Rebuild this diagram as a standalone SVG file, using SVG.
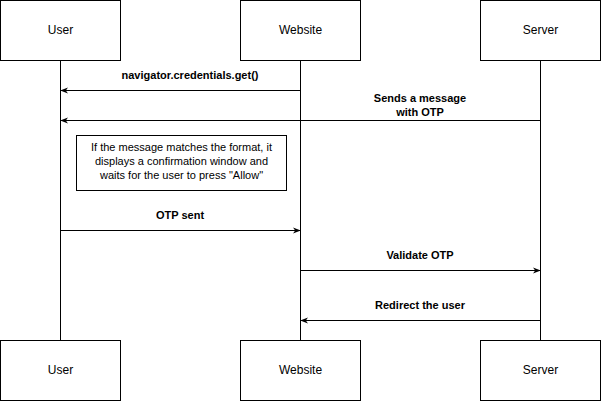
<svg xmlns="http://www.w3.org/2000/svg" width="601" height="401" viewBox="0 0 601 401">
<style>
.box{fill:#fff;stroke:#000;stroke-width:1}
.t{font-family:"Liberation Sans",Arial,sans-serif;font-size:12px;text-anchor:middle;fill:#000}
.b{font-weight:bold;font-size:11px}
.n{font-size:11px}
.l{stroke:#000;stroke-width:1;fill:none}
</style>
<defs><marker id="a" viewBox="0 0 10 10" refX="9" refY="5" markerWidth="8" markerHeight="8" orient="auto"><path d="M0,1 L10,5 L0,9 L3,5 Z" fill="#000"/></marker></defs>
<rect width="601" height="401" fill="#fff"/>
<g id="lifelines">
<line class="l" x1="60.5" y1="60" x2="60.5" y2="340"/>
<line class="l" x1="300.5" y1="60" x2="300.5" y2="340"/>
<line class="l" x1="540.5" y1="60" x2="540.5" y2="340"/>
</g>
<g id="user-top"><rect class="box" x="0.5" y="0.5" width="120" height="60"/><text class="t" x="60.5" y="34">User</text></g>
<g id="website-top"><rect class="box" x="240.5" y="0.5" width="120" height="60"/><text class="t" x="300.5" y="34">Website</text></g>
<g id="server-top"><rect class="box" x="480.5" y="0.5" width="120" height="60"/><text class="t" x="540.5" y="34">Server</text></g>
<g id="user-bottom"><rect class="box" x="0.5" y="340.5" width="120" height="60"/><text class="t" x="60.5" y="374">User</text></g>
<g id="website-bottom"><rect class="box" x="240.5" y="340.5" width="120" height="60"/><text class="t" x="300.5" y="374">Website</text></g>
<g id="server-bottom"><rect class="box" x="480.5" y="340.5" width="120" height="60"/><text class="t" x="540.5" y="374">Server</text></g>
<g id="note"><rect class="box" x="76.5" y="135.5" width="210" height="55"/>
<text class="t n" x="181.5" y="151">If the message matches the format, it</text>
<text class="t n" x="181.5" y="165">displays a confirmation window and</text>
<text class="t n" x="181.5" y="179">waits for the user to press "Allow"</text></g>
<g id="connectors">
<line class="l" x1="300" y1="90.5" x2="61" y2="90.5" marker-end="url(#a)"/>
<text class="t b" x="190" y="79">navigator.credentials.get()</text>
<line class="l" x1="540" y1="120.5" x2="61" y2="120.5" marker-end="url(#a)"/>
<text class="t b" x="420" y="102">Sends a message</text>
<text class="t b" x="420" y="116">with OTP</text>
<line class="l" x1="61" y1="230.5" x2="300" y2="230.5" marker-end="url(#a)"/>
<text class="t b" x="180" y="219">OTP sent</text>
<line class="l" x1="301" y1="270.5" x2="540" y2="270.5" marker-end="url(#a)"/>
<text class="t b" x="420" y="259">Validate OTP</text>
<line class="l" x1="540" y1="320.5" x2="301" y2="320.5" marker-end="url(#a)"/>
<text class="t b" x="420" y="309">Redirect the user</text>
</g>
</svg>
